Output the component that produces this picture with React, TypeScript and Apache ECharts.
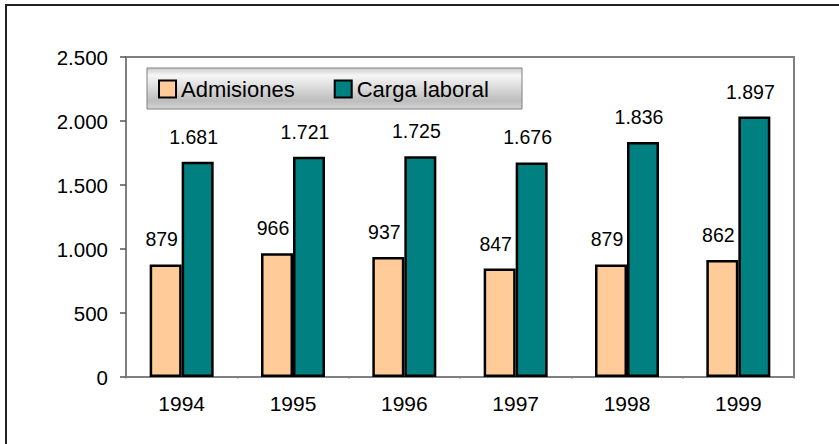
import React, { useEffect, useRef } from "react";
import * as echarts from "echarts";

const categories = ["1994", "1995", "1996", "1997", "1998", "1999"];
const seriesNames = ["Admisiones", "Carga laboral"];
// bar heights as drawn in the picture
const admisionesValues = [879, 966, 937, 847, 879, 915];
const cargaValues = [1681, 1721, 1725, 1676, 1836, 2035];
// printed data labels
const admisionesLabels = ["879", "966", "937", "847", "879", "862"];
const cargaLabels = ["1.681", "1.721", "1.725", "1.676", "1.836", "1.897"];
const yTickLabels: Record<number, string> = {
  0: "0",
  500: "500",
  1000: "1.000",
  1500: "1.500",
  2000: "2.000",
  2500: "2.500",
};

const FONT = "'Liberation Sans', Arial, sans-serif";

export default function App() {
  const ref = useRef<HTMLDivElement>(null);
  useEffect(() => {
    if (!ref.current) return;
    const chart = echarts.init(ref.current, undefined, { renderer: "svg" });
    const labelStyle = {
      show: true,
      position: "top" as const,
      distance: 15,
      offset: [-4, 0],
      fontSize: 19.5,
      color: "#000",
      fontFamily: FONT,
    };
    chart.setOption({
      animation: false,
      backgroundColor: "#fff",
      textStyle: { fontFamily: FONT },
      graphic: [
        {
          type: "rect",
          z: -10,
          shape: { x: 6, y: 5, width: 900, height: 500 },
          style: { fill: "none", stroke: "#222", lineWidth: 2 },
        },
        {
          type: "rect",
          z: 1,
          shape: { x: 147, y: 68, width: 375, height: 41 },
          style: {
            stroke: "#808080",
            lineWidth: 1,
            fill: new echarts.graphic.LinearGradient(0, 0, 0, 1, [
              { offset: 0, color: "#cccccc" },
              { offset: 0.18, color: "#f6f6f6" },
              { offset: 0.8, color: "#bdbdbd" },
              { offset: 1, color: "#d4d4d4" },
            ]),
          },
        },
      ],
      legend: {
        data: seriesNames,
        left: 158,
        top: 78,
        padding: 0,
        itemWidth: 17,
        itemHeight: 17,
        itemGap: 39,
        icon: "rect",
        z: 5,
        itemStyle: { borderWidth: 2, borderColor: "#000" },
        textStyle: { fontSize: 22, color: "#000", fontFamily: FONT },
      },
      grid: {
        left: 126,
        top: 57,
        right: 45,
        bottom: 67,
        show: true,
        borderColor: "#808080",
        borderWidth: 2,
        backgroundColor: "#fff",
      },
      xAxis: {
        type: "category",
        data: categories,
        axisLine: { show: true, lineStyle: { color: "#808080", width: 2 } },
        axisTick: {
          show: true,
          length: 8,
          lineStyle: { color: "#808080", width: 1.5, type: [1.5, 6.5], dashOffset: 0 },
        },
        axisLabel: { fontSize: 21, color: "#000", margin: 16, fontFamily: FONT },
      },
      yAxis: {
        type: "value",
        min: 0,
        max: 2500,
        interval: 500,
        splitLine: { show: false },
        axisLine: { show: true, lineStyle: { color: "#808080", width: 2 } },
        axisTick: { show: true, length: 6, lineStyle: { color: "#555", width: 1.5 } },
        axisLabel: {
          fontSize: 20.5,
          color: "#000",
          margin: 18,
          fontFamily: FONT,
          formatter: (v: number) => yTickLabels[v] ?? String(v),
        },
      },
      series: [
        {
          name: seriesNames[0],
          type: "bar",
          data: admisionesValues,
          barWidth: 32,
          barGap: "0%",
          itemStyle: { color: "#FFCC99", borderColor: "#000", borderWidth: 2.5 },
          label: {
            ...labelStyle,
            formatter: (p: any) => admisionesLabels[p.dataIndex],
          },
        },
        {
          name: seriesNames[1],
          type: "bar",
          data: cargaValues,
          barWidth: 32,
          barGap: "0%",
          itemStyle: { color: "#008080", borderColor: "#000", borderWidth: 2.5 },
          label: {
            ...labelStyle,
            formatter: (p: any) => cargaLabels[p.dataIndex],
          },
        },
      ],
    });
    return () => chart.dispose();
  }, []);
  return (
    <div
      ref={ref}
      style={{ position: "absolute", left: 0, top: 0, width: 839, height: 444 }}
    />
  );
}
